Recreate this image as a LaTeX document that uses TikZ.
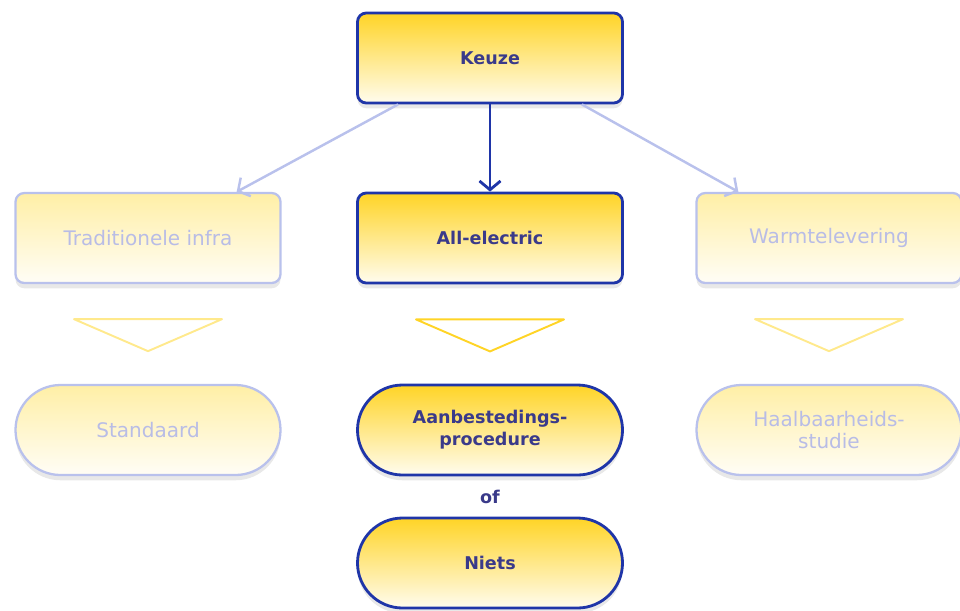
\documentclass[tikz,border=0pt]{standalone}
\usepackage{fontspec}
\setmainfont{DejaVu Sans}
\usetikzlibrary{arrows.meta,positioning,calc,shadows}

\definecolor{kdblue}{HTML}{1F35A8}
\definecolor{kdtext}{HTML}{3A3A8A}
\definecolor{kgold}{HTML}{FFD426}
\definecolor{kcream}{HTML}{FFFCEE}
\definecolor{fblue}{HTML}{B9C1EC}
\definecolor{ftext}{HTML}{B8BCE6}
\definecolor{fgold}{HTML}{FFEFA6}
\definecolor{fcream}{HTML}{FFFDF6}
\definecolor{fline}{HTML}{FFE98C}

\begin{document}
\begin{tikzpicture}[node distance=2cm,on grid,
    box/.style={rectangle,rounded corners=5pt,minimum width=5.3cm,minimum height=1.8cm,
        align=center,
        drop shadow={opacity=0.18,shadow xshift=0pt,shadow yshift=-3pt}},
    pill/.style={box,rounded corners=0.9cm},
    active/.style={draw=kdblue,line width=1.6pt,top color=kgold,bottom color=kcream,text=kdtext,
        font=\fontsize{10}{12.5}\selectfont\bfseries},
    faded/.style={draw=fblue,line width=1.3pt,top color=fgold,bottom color=fcream,text=ftext,
        font=\fontsize{11.4}{13}\selectfont},
    dimarrow/.style={draw=fblue,line width=1.4pt,-{Straight Barb[length=5pt,width=12pt]}},
    mainarrow/.style={draw=kdblue,line width=1.6pt,-{Straight Barb[length=5pt,width=12pt]}},
    funnel/.style={line width=1.1pt,line join=round}]
    \useasboundingbox (0,0) rectangle (19.2,-12.2);

    % top row
    \node[box,active] (keuze) at (9.8,-1.16) {Keuze};
    \node[box,active,below=3.6cm of keuze] (allel) {All-electric};
    \node[box,faded,left=6.84cm of allel] (trad) {Traditionele infra};
    \node[box,faded,right=6.78cm of allel] (warm) {Warmtelevering};

    % bottom row
    \node[pill,active,below=3.84cm of allel] (aanb) {Aanbestedings-\\procedure};
    \node[pill,faded,below=3.84cm of trad] (stand) {Standaard};
    \node[pill,faded,below=3.84cm of warm] (haal) {Haalbaarheids-\\studie};
    \node[below=1.34cm of aanb,text=kdtext,font=\fontsize{10}{12}\selectfont\bfseries] (of) {of};
    \node[pill,active,below=2.66cm of aanb] (niets) {Niets};

    % connectors
    \draw[mainarrow] (keuze.south) -- (allel.north);
    \draw[dimarrow] ($(keuze.south west)+(0.84,0)$) -- ($(trad.north east)+(-0.9,0)$);
    \draw[dimarrow] ($(keuze.south east)+(-0.84,0)$) -- ($(warm.north west)+(0.86,0)$);

    % funnels
    \foreach \col/\clr in {trad/fline,allel/kgold,warm/fline}
        \draw[funnel,draw=\clr] ($(\col.south)+(-1.48,-0.7)$) -- ($(\col.south)+(1.48,-0.7)$)
            -- ($(\col.south)+(0,-1.34)$) -- cycle;
\end{tikzpicture}
\end{document}
